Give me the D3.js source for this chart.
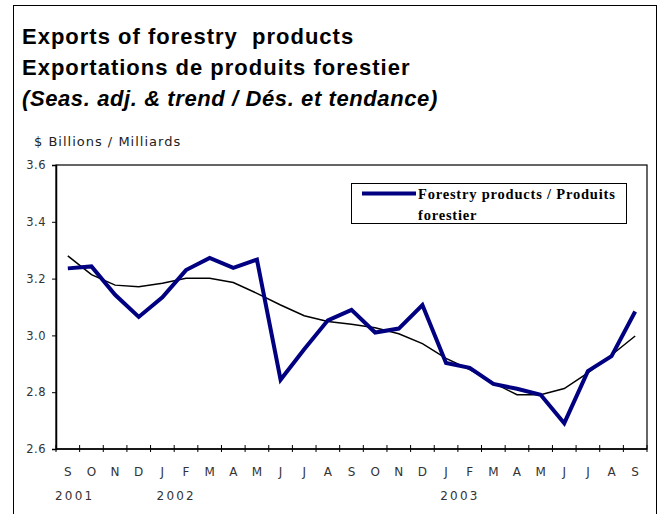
<!DOCTYPE html>
<html>
<head>
<meta charset="utf-8">
<script src="https://cdn.jsdelivr.net/npm/d3@7"></script>
<style>
  body { margin: 0; background: #fff; }
  svg { display: block; }
</style>
</head>
<body>
<svg id="chart"></svg>
<script>
// months Sep 2001 .. Sep 2003
const months = ["S","O","N","D","J","F","M","A","M","J","J","A","S","O","N","D","J","F","M","A","M","J","J","A","S"];
const years = ["2001", "2002", "2003"];
const yearIndex = [0, 4, 16];
const seasAdj = [3.236, 3.243, 3.143, 3.065, 3.134, 3.230, 3.273, 3.238, 3.267, 2.844, 2.951, 3.053,
                 3.090, 3.010, 3.024, 3.107, 2.903, 2.886, 2.829, 2.812, 2.791, 2.691, 2.874, 2.927, 3.084];
const trend = [3.280, 3.214, 3.177, 3.171, 3.184, 3.201, 3.201, 3.186, 3.148, 3.107, 3.069, 3.049,
               3.039, 3.027, 3.006, 2.971, 2.919, 2.880, 2.833, 2.791, 2.791, 2.813, 2.868, 2.931, 2.998];
const yTicks = [2.6, 2.8, 3.0, 3.2, 3.4, 3.6];
const titles = ["Exports of forestry  products", "Exportations de produits forestier"];
const subTitle = "(Seas. adj. & trend / Dés. et tendance)";
const unitLabel = "$ Billions / Milliards";
const legendLines = ["Forestry products / Produits", "forestier"];

const w = 668, h = 514;
const plotLeft = 56, plotRight = 647, plotTop = 165, plotBottom = 449;

const svg = d3.select("#chart").attr("width", w).attr("height", h);

// outer frame
svg.append("rect")
   .attr("x", 13.5).attr("y", 5.5)
   .attr("width", 643).attr("height", 520)
   .attr("fill", "none").attr("stroke", "#000").attr("stroke-width", 1);

svg.selectAll(".title")
   .data(titles)
   .enter()
   .append("text")
   .attr("x", 22)
   .attr("y", (d, i) => 44 + i * 31)
   .style("font-family", "'Liberation Sans', Arial, sans-serif")
   .style("font-weight", "bold")
   .style("font-size", "22px")
   .style("letter-spacing", "1px")
   .style("white-space", "pre")
   .text(d => d);

svg.append("text")
   .attr("x", 22).attr("y", 106)
   .style("font-family", "'Liberation Sans', Arial, sans-serif")
   .style("font-weight", "bold")
   .style("font-style", "italic")
   .style("font-size", "22px")
   .style("letter-spacing", "0.6px")
   .text(subTitle);

svg.append("text")
   .attr("x", 34).attr("y", 146)
   .style("font-family", "'DejaVu Sans', sans-serif")
   .style("font-size", "13px")
   .style("letter-spacing", "1px")
   .style("fill", "#222")
   .style("white-space", "pre")
   .text(unitLabel);

const xScale = d3.scaleBand().domain(d3.range(months.length)).range([plotLeft, plotRight]);
const yScale = d3.scaleLinear().domain([2.6, 3.6]).range([plotBottom, plotTop]);

// plot box
svg.append("rect")
   .attr("x", plotLeft).attr("y", plotTop)
   .attr("width", plotRight - plotLeft).attr("height", plotBottom - plotTop)
   .attr("fill", "none").attr("stroke", "#000").attr("stroke-width", 1.2);

const yAxis = d3.axisLeft(yScale).tickValues(yTicks).tickFormat(d3.format(".1f")).tickSize(4).tickPadding(6);
const gy = svg.append("g")
   .attr("transform", `translate(${plotLeft}, 0)`)
   .call(yAxis);
gy.select(".domain").attr("stroke-width", 1.5);
gy.selectAll("text")
  .style("font-family", "'DejaVu Sans', sans-serif")
  .style("font-size", "11.5px")
  .style("letter-spacing", "0.5px")
  .style("fill", "#333");

// x axis: ticks at category boundaries, crossing the axis
const gx = svg.append("g");
gx.append("line")
  .attr("x1", plotLeft).attr("x2", plotRight)
  .attr("y1", plotBottom).attr("y2", plotBottom)
  .attr("stroke", "#000").attr("stroke-width", 1.5);
gx.selectAll(".xtick")
  .data(d3.range(months.length + 1))
  .enter()
  .append("line")
  .attr("x1", i => plotLeft + i * xScale.bandwidth())
  .attr("x2", i => plotLeft + i * xScale.bandwidth())
  .attr("y1", plotBottom - 4).attr("y2", plotBottom + 3)
  .attr("stroke", "#000").attr("stroke-width", 1);
gx.selectAll(".mlabel")
  .data(months)
  .enter()
  .append("text")
  .attr("x", (d, i) => xScale(i) + xScale.bandwidth() / 2)
  .attr("y", 476)
  .attr("text-anchor", "middle")
  .style("font-family", "'DejaVu Sans', sans-serif")
  .style("font-size", "12px")
  .style("fill", "#333")
  .text(d => d);
gx.selectAll(".ylabel")
  .data(years)
  .enter()
  .append("text")
  .attr("x", (d, i) => xScale(yearIndex[i]) + (i === 0 ? -1 : 6))
  .attr("y", 500)
  .style("font-family", "'DejaVu Sans', sans-serif")
  .style("font-size", "12px")
  .style("letter-spacing", "2.2px")
  .style("fill", "#333")
  .text(d => d);

const line = d3.line()
   .x((d, i) => xScale(i) + xScale.bandwidth() / 2)
   .y(d => yScale(d));

svg.append("path")
   .datum(trend)
   .attr("d", line)
   .attr("fill", "none")
   .attr("stroke", "#000")
   .attr("stroke-width", 1.5);

svg.append("path")
   .datum(seasAdj)
   .attr("d", line)
   .attr("fill", "none")
   .attr("stroke", "#000080")
   .attr("stroke-width", 4)
   .attr("stroke-linejoin", "miter");

// legend
const lg = svg.append("g");
lg.append("rect")
  .attr("x", 351.5).attr("y", 183.5)
  .attr("width", 275).attr("height", 40)
  .attr("fill", "#fff").attr("stroke", "#000").attr("stroke-width", 1);
lg.append("line")
  .attr("x1", 362).attr("x2", 416)
  .attr("y1", 193.5).attr("y2", 193.5)
  .attr("stroke", "#000080").attr("stroke-width", 4);
lg.selectAll("text")
  .data(legendLines)
  .enter()
  .append("text")
  .attr("x", 418)
  .attr("y", (d, i) => 199 + i * 21)
  .style("font-family", "'Liberation Serif', 'Times New Roman', serif")
  .style("font-weight", "bold")
  .style("font-size", "14.5px")
  .style("letter-spacing", "0.8px")
  .text(d => d);
</script>
</body>
</html>
